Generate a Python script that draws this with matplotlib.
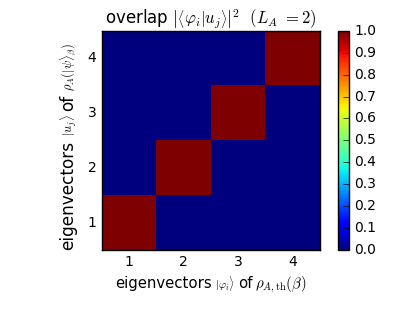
import numpy as np
import matplotlib
matplotlib.use("Agg")
import matplotlib.pyplot as plt
from matplotlib.transforms import IdentityTransform

plt.style.use('classic')
plt.rcParams['mathtext.fontset'] = 'cm'

labels = [1, 2, 3, 4]
overlap = np.array([
    [1.0, 0.0, 0.0, 0.0],
    [0.0, 1.0, 0.0, 0.0],
    [0.0, 0.0, 1.0, 0.0],
    [0.0, 0.0, 0.0, 1.0],
])  # rows: j (u_j), cols: i (phi_i)
cbar_ticks = [0.0, 0.1, 0.2, 0.3, 0.4, 0.5, 0.6, 0.7, 0.8, 0.9, 1.0]

xlabel_parts = [("eigenvectors", 10.7), (r"$|\varphi_i\rangle$", 8),
                ("of", 10.7), (r"$\rho_{A,\mathrm{th}}(\beta)$", 10.7)]
ylabel_parts = [("eigenvectors", 12.2), (r"$|u_j\rangle$", 9),
                ("of", 12.2), (r"$\rho_A(|\psi\rangle_\beta)$", 9)]

fig = plt.figure(figsize=(4.15, 3.12), dpi=100, facecolor='white')
ax = fig.add_axes([0.246, 0.199, 0.525, 0.702])
cax = fig.add_axes([0.814, 0.199, 0.027, 0.702])

im = ax.imshow(overlap, cmap='jet', vmin=0, vmax=1, origin='lower',
               interpolation='nearest', aspect='auto',
               extent=[0.5, 4.5, 0.5, 4.5])
ax.set_xticks(labels)
ax.set_yticks(labels)
ax.tick_params(length=0, labelsize=10)
ax.set_title(r'overlap $\left|\left\langle\varphi_i|u_j\right\rangle\right|^2$  $(L_A\ =2)$',
             fontsize=12)

cb = fig.colorbar(im, cax=cax, ticks=cbar_ticks)
cb.ax.tick_params(labelsize=10)

renderer = fig.canvas.get_renderer()
W, H = fig.bbox.width, fig.bbox.height


def place_parts(parts, center, base, vertical=False, gap=3.5):
    texts = []
    for s, fs in parts:
        t = fig.text(0, 0, s, fontsize=fs, ha='left', va='baseline',
                     rotation=90 if vertical else 0, rotation_mode='anchor',
                     transform=IdentityTransform())
        texts.append(t)
    sizes = []
    for t in texts:
        bb = t.get_window_extent(renderer)
        sizes.append(bb.height if vertical else bb.width)
    total = sum(sizes) + gap * (len(sizes) - 1)
    pos = center - total / 2
    for t, sz in zip(texts, sizes):
        if vertical:
            t.set_position((base, pos))
        else:
            t.set_position((pos, base))
        pos += sz + gap


ax_bb = ax.get_window_extent(renderer)
place_parts(xlabel_parts, (ax_bb.x0 + ax_bb.x1) / 2, H - 288, gap=3)
place_parts(ylabel_parts, H - 146, 73, vertical=True, gap=4)

fig.savefig('out.png', dpi=100, facecolor='white')
